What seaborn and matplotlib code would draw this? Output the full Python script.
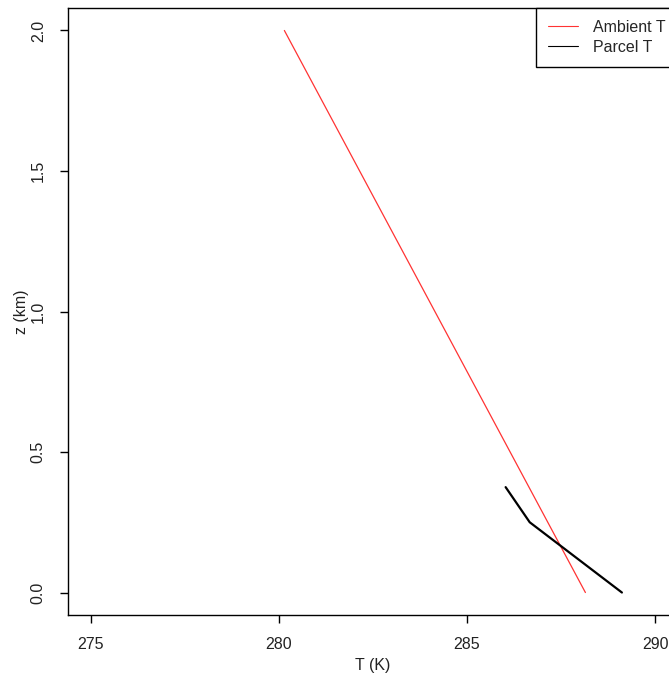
"""
ambient vs parcel temperature profile
"""

import matplotlib
matplotlib.use("Agg")
import matplotlib.pyplot as plt
from matplotlib.lines import Line2D
import pandas as pd
import seaborn as sns

# ambient profile (K vs km)
ambient_z = [0.0, 0.5, 1.0, 1.5, 2.0]
ambient_t = [288.15, 286.15, 284.15, 282.15, 280.15]

# lifted parcel (dry then moist)
parcel_z = [0.0, 0.25, 0.375]
parcel_t = [289.12, 286.67, 286.03]

x_ticks = [275, 280, 285, 290]
y_ticks = [0.0, 0.5, 1.0, 1.5, 2.0]

sns.set_style("white")
plt.rcParams["font.family"] = ["Liberation Sans", "DejaVu Sans"]

fig = plt.figure(figsize=(6.69, 6.78), dpi=100)
# right edge of the plot box runs past the image, as in the original
ax = fig.add_axes([68 / 669, 1 - 615 / 678, 609.6 / 669, 607 / 678])

amb = pd.DataFrame({"T": ambient_t, "z": ambient_z})
par = pd.DataFrame({"T": parcel_t, "z": parcel_z})

sns.lineplot(data=amb, x="T", y="z", sort=False, color="#ff3333", lw=0.9, ax=ax)
sns.lineplot(data=par, x="T", y="z", sort=False, color="black", lw=1.6, ax=ax)

ax.set_xlim(274.4, 290.6)
ax.set_ylim(-0.08, 2.08)
ax.set_xticks(x_ticks)
ax.set_xticklabels([str(t) for t in x_ticks])
ax.set_yticks(y_ticks)
ax.set_yticklabels([f"{t:.1f}" for t in y_ticks], rotation=90, va="center")

for s in ax.spines.values():
    s.set_color("black")
    s.set_linewidth(1.0)

ax.tick_params(axis="both", direction="out", length=6, width=1, color="black",
               labelsize=11.5, labelcolor="#222222", bottom=True, left=True)
ax.tick_params(axis="x", pad=10)
ax.tick_params(axis="y", pad=10)

ax.set_xlabel("T (K)", fontsize=11.5, color="#222222", labelpad=4)
ax.set_ylabel("z (km)", fontsize=11.5, color="#222222", labelpad=1)

handles = [
    Line2D([], [], color="#ff3333", lw=0.8),
    Line2D([], [], color="black", lw=0.8),
]
leg = ax.legend(handles, ["Ambient T", "Parcel T"], loc="upper right",
                bbox_to_anchor=(1.0, 1.0), borderaxespad=0, fontsize=11.5,
                fancybox=False, framealpha=1, edgecolor="black",
                handlelength=1.87, handletextpad=0.94,
                labelspacing=0.3, borderpad=0.75)
leg.get_frame().set_linewidth(1.0)

fig.savefig("out.png", dpi=100)
